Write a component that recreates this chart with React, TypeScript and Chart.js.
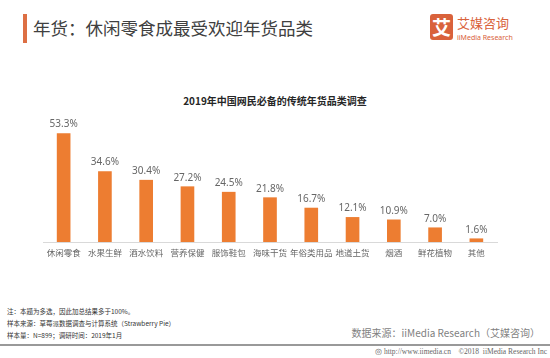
import React, { useEffect, useRef } from "react";
import { Chart, registerables } from "chart.js";

Chart.register(...registerables);

const categories = [
  "休闲零食",
  "水果生鲜",
  "酒水饮料",
  "营养保健",
  "服饰鞋包",
  "海味干货",
  "年俗类用品",
  "地道土货",
  "烟酒",
  "鲜花植物",
  "其他",
];
const shares = [53.3, 34.6, 30.4, 27.2, 24.5, 21.8, 16.7, 12.1, 10.9, 7.0, 1.6];

const pageTitle = "年货：休闲零食成最受欢迎年货品类";
const chartTitle = "2019年中国网民必备的传统年货品类调查";
const notes = [
  "注：本题为多选，因此加总结果多于100%。",
  "样本来源：草莓派数据调查与计算系统（Strawberry Pie）",
  "样本量：N=899；调研时间：2019年1月",
];
const sourceText = "数据来源：iiMedia Research（艾媒咨询）";
const footerText = "http://www.iimedia.cn    ©2018  iiMedia Research Inc";

const CJK = '"Noto Sans CJK SC", "Noto Sans", sans-serif';

const valueLabels = {
  id: "valueLabels",
  afterDatasetsDraw(chart: any) {
    const ctx = chart.ctx;
    const meta = chart.getDatasetMeta(0);
    ctx.save();
    ctx.fillStyle = "#666666";
    ctx.font = '10px "Noto Sans", sans-serif';
    ctx.textAlign = "center";
    ctx.textBaseline = "bottom";
    meta.data.forEach((el: any, i: number) => {
      const v = chart.data.datasets[0].data[i] as number;
      ctx.fillText(v.toFixed(1) + "%", el.x, el.y - 4);
    });
    ctx.restore();
  },
};

export default function App() {
  const ref = useRef<HTMLCanvasElement | null>(null);

  useEffect(() => {
    if (!ref.current) return;
    const chart = new Chart(ref.current, {
      type: "bar",
      data: {
        labels: categories,
        datasets: [
          {
            data: shares,
            backgroundColor: "#ED7D31",
            barThickness: 13,
          },
        ],
      },
      options: {
        animation: false,
        responsive: false,
        devicePixelRatio: 1,
        layout: { padding: { left: 43, right: 53, top: 10, bottom: 0 } },
        plugins: {
          legend: { display: false },
          tooltip: { enabled: false },
          title: { display: false },
        },
        scales: {
          y: { display: false, min: 0, max: 60 },
          x: {
            grid: { display: false, drawTicks: false },
            border: { display: true, color: "#d9d9d9", width: 1 },
            ticks: {
              color: "#666666",
              font: { size: 8.5, family: CJK },
              padding: 6,
              maxRotation: 0,
              autoSkip: false,
            },
            afterFit: (scale: any) => {
              scale.height = 20;
            },
          },
        },
      },
      plugins: [valueLabels],
    });
    return () => chart.destroy();
  }, []);

  return (
    <div
      style={{
        position: "fixed",
        left: 0,
        top: 0,
        width: 550,
        height: 358,
        background: "#ffffff",
        overflow: "hidden",
        fontFamily: CJK,
      }}
    >
      {/* title bar */}
      <div style={{ position: "absolute", left: 23, top: 14, width: 4, height: 29, background: "#DD6F44" }} />
      <div
        style={{
          position: "absolute",
          left: 33,
          top: 16,
          fontSize: 17.5,
          lineHeight: "24px",
          color: "#404040",
          whiteSpace: "nowrap",
        }}
      >
        {pageTitle}
      </div>
      {/* logo */}
      <div
        style={{
          position: "absolute",
          left: 430,
          top: 14,
          width: 23,
          height: 26,
          background: "#D9623B",
          borderRadius: 3,
          color: "#fff",
          fontWeight: 700,
          fontSize: 19,
          lineHeight: "26px",
          textAlign: "center",
        }}
      >
        艾
      </div>
      <div
        style={{
          position: "absolute",
          left: 457,
          top: 15,
          fontSize: 13,
          lineHeight: "16px",
          color: "#D9623B",
          whiteSpace: "nowrap",
        }}
      >
        艾媒咨询
      </div>
      <div
        style={{
          position: "absolute",
          left: 457,
          top: 33,
          fontSize: 7,
          lineHeight: "9px",
          color: "#D9623B",
          whiteSpace: "nowrap",
          fontFamily: '"Noto Sans", sans-serif',
        }}
      >
        iiMedia Research
      </div>
      {/* chart title */}
      <div
        style={{
          position: "absolute",
          left: 0,
          width: 550,
          top: 94,
          textAlign: "center",
          fontSize: 10,
          lineHeight: "14px",
          fontWeight: 700,
          color: "#262626",
        }}
      >
        {chartTitle}
      </div>
      <canvas ref={ref} width={550} height={152} style={{ position: "absolute", left: 0, top: 110 }} />
      {/* notes */}
      {notes.map((n, i) => (
        <div
          key={i}
          style={{
            position: "absolute",
            left: 7,
            top: 307 + i * 12,
            fontSize: 6.5,
            lineHeight: "9px",
            color: "#333",
            whiteSpace: "nowrap",
          }}
        >
          {n}
        </div>
      ))}
      <div
        style={{
          position: "absolute",
          right: 10,
          top: 326,
          fontSize: 10,
          lineHeight: "14px",
          color: "#7f7f7f",
          whiteSpace: "nowrap",
        }}
      >
        {sourceText}
      </div>
      <div style={{ position: "absolute", left: 0, top: 344, width: 550, height: 1.5, background: "#999" }} />
      <div
        style={{
          position: "absolute",
          right: 3,
          top: 347,
          fontSize: 7.5,
          lineHeight: "10px",
          color: "#666",
          whiteSpace: "pre",
          fontFamily: '"Liberation Serif", serif',
        }}
      >
        {"◎ "}
        {footerText}
      </div>
    </div>
  );
}
